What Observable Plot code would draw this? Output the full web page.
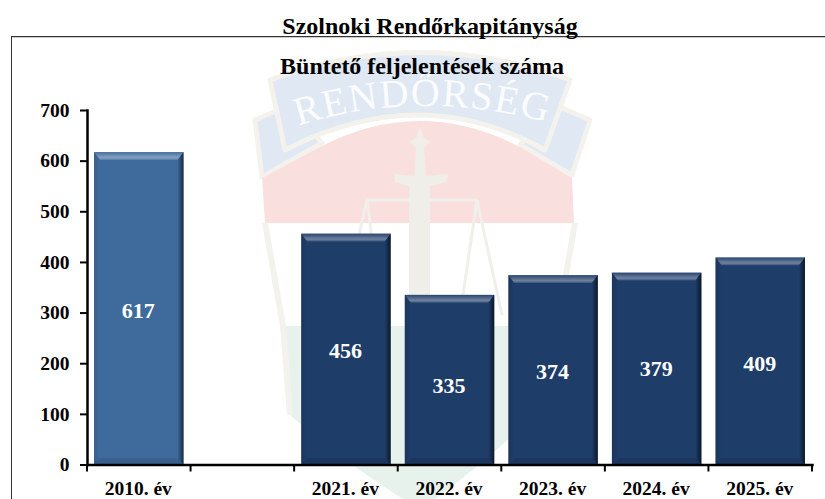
<!DOCTYPE html>
<html lang="hu">
<head>
<meta charset="utf-8">
<title>Szolnoki Rendőrkapitányság</title>
<script src="https://cdn.jsdelivr.net/npm/d3@7"></script>
<script src="https://cdn.jsdelivr.net/npm/@observablehq/plot@0.6"></script>
<style>
  html, body { margin: 0; padding: 0; background: #fff; }
  #page { position: relative; width: 825px; height: 499px; overflow: hidden; font-family: "Liberation Serif", serif; font-weight: bold; color: #000; }
  #frame { position: absolute; left: 11px; top: 36px; right: -4px; bottom: -4px; border-top: 1.5px solid #333; border-left: 1.5px solid #333; box-shadow: inset 0 1px 0 #ccc; }
  #chart { position: absolute; left: 0; top: 0; }
  .t { position: absolute; white-space: nowrap; transform: translateX(-50%); line-height: 1; }
  #title { left: 430px; top: 14px; font-size: 24px; }
  #subtitle { left: 422px; top: 54px; font-size: 24px; }
</style>
</head>
<body>
<div id="page">
  <div id="chart"></div>
  <div id="frame"></div>
  <div class="t" id="title">Szolnoki Rendőrkapitányság</div>
  <div class="t" id="subtitle">Büntető feljelentések száma</div>
</div>
<script>
// Data
const categories = ["2010. év", "–", "2021. év", "2022. év", "2023. év", "2024. év", "2025. év"];
const values = [617, null, 456, 335, 374, 379, 409];
const barColors = ["#3f6a9c", null, "#1f3d69", "#1f3d69", "#1f3d69", "#1f3d69", "#1f3d69"];
const labelHeights = [305, null, 226, 157, 183, 189, 200];
const yTicks = [0, 100, 200, 300, 400, 500, 600, 700];
const rows = categories.map((category, i) => ({category, value: values[i], color: barColors[i], labelAt: labelHeights[i]})).filter(d => d.value != null);

const SVGNS = "http://www.w3.org/2000/svg";
const el = (name, attrs, text) => {
  const n = document.createElementNS(SVGNS, name);
  for (const k in attrs) n.setAttribute(k, attrs[k]);
  if (text) n.textContent = text;
  return n;
};

// Faint police-emblem watermark behind the plot
function watermark() {
  const g = el("g", {});
  const beige = "#f4f2ec";
  const blue = "#dfe8f3";
  const add = (d, fill, stroke, sw) => g.appendChild(el("path", {d, fill: fill || "none", stroke: stroke || "none", "stroke-width": sw || 0, "stroke-linejoin": "round"}));
  // ribbon tails
  add("M255,120 L290,105 L322,143 L262,177 Z", blue, beige, 5);
  add("M590,120 L555,105 L520,145 L572,175 Z", blue, beige, 5);
  // shield fields
  add("M265,223 L575,223 L557,326 L283,326 Z", "#fff");
  add("M283,326 L557,326 L550,400 Q490,460 420,510 Q340,460 290,415 Z", "#e8f2ec");
  add("M262,178 L320,147 Q420,95 520,147 L572,178 L574,223 L265,223 Z", "#f9e0df");
  add("M265,223 L283,326 L290,415 M575,223 L557,326 L550,400", "none", beige, 6);
  // ribbon main
  add("M270,80 Q420,25 570,80 L545,150 Q420,80 285,150 Z", blue, beige, 5);
  // scales
  add("M367,200 L477,200 M367,200 L340,315 M367,200 L382,315 M477,200 L460,315 M477,200 L502,315", "none", "#f1efe9", 3);
  // sword
  add("M420,128 L424,138 L430,142 L424,148 L426,176 L448,174 L446,182 L430,186 L430,340 L409,340 L409,186 L395,182 L394,174 L415,176 L416,148 L410,142 L416,138 Z", "#f0eee8");
  // ribbon lettering
  const defs = el("defs", {});
  defs.appendChild(el("path", {id: "wmArc", d: "M298,126 Q420,86 560,126"}));
  g.appendChild(defs);
  const text = el("text", {fill: "#fbfcfd", "text-anchor": "start", "font-size": 40, "font-family": "Liberation Serif", "font-weight": "normal", "letter-spacing": 1.5});
  text.appendChild(el("textPath", {href: "#wmArc", startOffset: "0%"}, "RENDŐRSÉG"));
  g.appendChild(text);
  return g;
}

// Gradients used for the bevel of each bar
function bevelDefs() {
  const defs = el("defs", {});
  const grad = (id, x1, y1, x2, y2, stops) => {
    const g = el("linearGradient", {id, x1, y1, x2, y2});
    stops.forEach(([o, c, a]) => g.appendChild(el("stop", {offset: o, "stop-color": c, "stop-opacity": a})));
    defs.appendChild(g);
  };
  grad("bvTop", 0, 0, 0, 1, [[0, "#fff", 0.04], [0.7, "#fff", 0.36], [1, "#fff", 0.12]]);
  grad("bvRight", 0, 0, 1, 0, [[0, "#000", 0], [1, "#000", 0.6]]);
  grad("bvLeft", 1, 0, 0, 0, [[0, "#000", 0], [1, "#000", 0.12]]);
  grad("bvBottom", 0, 0, 0, 1, [[0, "#000", 0.12], [1, "#000", 0.1]]);
  const f = el("filter", {id: "soft", x: "-5%", y: "-5%", width: "110%", height: "110%"});
  f.appendChild(el("feGaussianBlur", {stdDeviation: 0.5}));
  defs.appendChild(f);
  return defs;
}

// Adds bevel polygons over each rect that Plot drew
function bevel(index, scales, channels, dimensions, context, next) {
  const g = next(index, scales, channels, dimensions, context);
  const b = 6, bt = 8;
  d3.select(g).selectAll("rect").each(function() {
    const x = +this.getAttribute("x"), y = +this.getAttribute("y");
    const w = +this.getAttribute("width"), h = +this.getAttribute("height");
    const x2 = x + w, y2 = y + h;
    const sides = [
      ["bvTop", [[x, y], [x2, y], [x2 - b, y + bt], [x + b, y + bt]]],
      ["bvRight", [[x2 - b, y + bt], [x2, y], [x2, y2], [x2 - b, y2 - b]]],
      ["bvLeft", [[x, y], [x + b, y + bt], [x + b, y2 - b], [x, y2]]],
      ["bvBottom", [[x + b, y2 - b], [x2 - b, y2 - b], [x2, y2], [x, y2]]]
    ];
    for (const [id, pts] of sides) {
      g.appendChild(el("polygon", {points: pts.map(p => p.join(",")).join(" "), fill: `url(#${id})`, filter: "url(#soft)"}));
    }
  });
  return g;
}

// Tick marks at the boundaries of the category bands
function bandTicks(index, scales, channels, {marginLeft, marginRight, marginBottom, width, height}) {
  const g = el("g", {stroke: "#000", "stroke-width": 2});
  const step = (width - marginLeft - marginRight) / categories.length;
  const y0 = height - marginBottom;
  for (let i = 0; i <= categories.length; ++i) {
    const px = marginLeft + i * step;
    g.appendChild(el("line", {x1: px, x2: px, y1: y0, y2: y0 + 7}));
  }
  return g;
}

const plot = Plot.plot({
  width: 825,
  height: 499,
  marginLeft: 87,
  marginRight: 13,
  marginTop: 110,
  marginBottom: 34.5,
  style: {background: "transparent", fontFamily: "Liberation Serif", fontWeight: "bold", color: "#000", overflow: "visible"},
  x: {domain: categories, paddingInner: 0.136, paddingOuter: 0.068, align: 0.5, round: false},
  y: {domain: [0, 700], ticks: yTicks},
  marks: [
    watermark,
    bevelDefs,
    Plot.barY(rows, {x: "category", y: "value", fill: "color", render: bevel}),
    Plot.text(rows, {x: "category", y: "labelAt", dx: -1, text: d => String(d.value), fill: "#fff", fontSize: 22, fontWeight: "bold", fontFamily: "Liberation Serif"}),
    Plot.axisY({ticks: yTicks, tickSize: 7, tickPadding: 11, label: null, fontSize: 19.5, stroke: "#000", strokeWidth: 2, strokeOpacity: 1}),
    Plot.axisX({tickSize: 0, tickPadding: 16, dx: -1, label: null, fontSize: 19.5, tickFormat: d => d === "–" ? "" : d}),
    bandTicks,
    Plot.frame({anchor: "left", stroke: "#000", strokeWidth: 2.5}),
    Plot.frame({anchor: "bottom", stroke: "#000", strokeWidth: 2.5})
  ]
});
document.getElementById("chart").appendChild(plot);
</script>
</body>
</html>
